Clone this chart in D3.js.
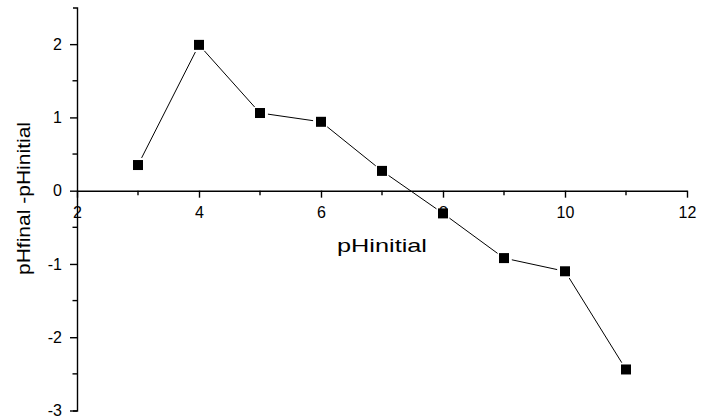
<!DOCTYPE html>
<html><head><meta charset="utf-8">
<script src="https://cdn.jsdelivr.net/npm/d3@7"></script>
<style>body{margin:0;background:#fff}svg{display:block}</style>
</head><body>
<svg id="c" width="701" height="419"></svg>
<script>
const xValues = [3, 4, 5, 6, 7, 8, 9, 10, 11];
const yValues = [0.35, 1.99, 1.06, 0.94, 0.27, -0.31, -0.92, -1.10, -2.44];
const xTicks = [2, 4, 6, 8, 10, 12];
const yTicks = [-3, -2, -1, 0, 1, 2];
const xLabel = "pHinitial";
const yLabel = "pHfinal -pHinitial";

const svg = d3.select("#c");
const font = "'Liberation Sans', Arial, sans-serif";
const fmt = d => String(d).replace("\u2212", "-");
const x = d3.scaleLinear().domain([2, 12]).range([77, 687]);
const y = d3.scaleLinear().domain([-3, 2.5]).range([410.5, 7.5]);

// x axis at y=0
const xAxis = d3.axisBottom(x).tickValues(xTicks).tickFormat(fmt).tickSizeInner(7).tickSizeOuter(0).tickPadding(9);
const gx = svg.append("g").attr("transform", `translate(0,${y(0)})`).call(xAxis);
gx.attr("font-size", null).attr("font-family", null);
gx.selectAll(".tick line").attr("stroke-width", 1.4);
gx.select(".domain").attr("stroke-width", 1.4);
gx.selectAll("text").style("font-family", font).style("font-size", "16px").attr("fill", "#000");
gx.selectAll(".minor").data(d3.range(3, 12, 2)).enter().append("line")
  .attr("x1", d => x(d)).attr("x2", d => x(d)).attr("y1", 0).attr("y2", 4.5)
  .attr("stroke", "#000").attr("stroke-width", 1.4);

// y axis
const yAxis = d3.axisLeft(y).tickValues(yTicks).tickFormat(fmt).tickSizeInner(7).tickSizeOuter(4).tickPadding(8);
const gy = svg.append("g").attr("transform", `translate(${x(2)},0)`).call(yAxis);
gy.attr("font-size", null).attr("font-family", null);
gy.selectAll(".tick line").attr("stroke-width", 1.4);
gy.select(".domain").attr("stroke-width", 1.4);
gy.selectAll("text").style("font-family", font).style("font-size", "16px").attr("fill", "#000");
gy.selectAll(".minor").data([-2.5, -1.5, -0.5, 0.5, 1.5]).enter().append("line")
  .attr("x1", 0).attr("x2", -4.5).attr("y1", d => y(d)).attr("y2", d => y(d))
  .attr("stroke", "#000").attr("stroke-width", 1.4);

// axis titles
svg.append("text").attr("x", 382).attr("y", 252).attr("text-anchor", "middle")
  .attr("font-family", font).attr("font-size", 18.5)
  .attr("textLength", 90).attr("lengthAdjust", "spacingAndGlyphs").text(xLabel);
svg.append("text").attr("transform", `translate(30,198.5) rotate(-90)`).attr("text-anchor", "middle")
  .attr("font-family", font).attr("font-size", 18)
  .attr("textLength", 153).attr("lengthAdjust", "spacingAndGlyphs").text(yLabel);

// line segments with gaps near markers
const pts = xValues.map((v, i) => [x(v), y(yValues[i])]);
const gap = 8;
for (let i = 0; i < pts.length - 1; i++) {
  const [x1, y1] = pts[i], [x2, y2] = pts[i + 1];
  const dx = x2 - x1, dy = y2 - y1, L = Math.hypot(dx, dy);
  const ux = dx / L, uy = dy / L;
  svg.append("line")
    .attr("x1", x1 + ux * gap).attr("y1", y1 + uy * gap)
    .attr("x2", x2 - ux * gap).attr("y2", y2 - uy * gap)
    .attr("stroke", "#000").attr("stroke-width", 1);
}
svg.selectAll("rect.m").data(pts).enter().append("rect").attr("class", "m")
  .attr("x", d => d[0] - 5).attr("y", d => d[1] - 5).attr("width", 10).attr("height", 10)
  .attr("fill", "#000");
</script>
</body></html>
